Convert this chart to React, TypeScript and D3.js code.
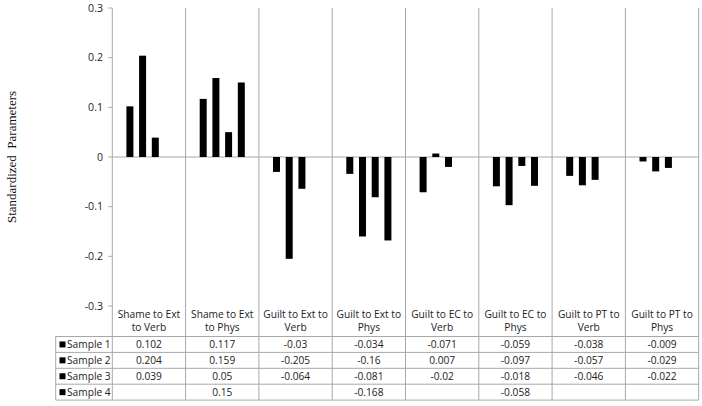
import React from "react";
import * as d3 from "d3";

const categories: string[][] = [
  ["Shame to Ext", "to Verb"],
  ["Shame to Ext", "to Phys"],
  ["Guilt to Ext to", "Verb"],
  ["Guilt to Ext to", "Phys"],
  ["Guilt to EC to", "Verb"],
  ["Guilt to EC to", "Phys"],
  ["Guilt to PT to", "Verb"],
  ["Guilt to PT to", "Phys"],
];
const seriesNames = ["Sample 1", "Sample 2", "Sample 3", "Sample 4"];
const sample1: (number | null)[] = [0.102, 0.117, -0.03, -0.034, -0.071, -0.059, -0.038, -0.009];
const sample2: (number | null)[] = [0.204, 0.159, -0.205, -0.16, 0.007, -0.097, -0.057, -0.029];
const sample3: (number | null)[] = [0.039, 0.05, -0.064, -0.081, -0.02, -0.018, -0.046, -0.022];
const sample4: (number | null)[] = [null, 0.15, null, -0.168, null, -0.058, null, null];
const seriesValues = [sample1, sample2, sample3, sample4];
const yTicks = [-0.3, -0.2, -0.1, 0, 0.1, 0.2, 0.3];

const W = 702;
const H = 406;
const plotLeft = 112.3;
const plotRight = 698.7;
const plotTop = 8;
const plotBottom = 306;
const tableLeft = 55.7;
const rowTop = 336.5;
const rowH = 15.9;
const gridColor = "#a8a8a8";
const font = "'Open Sans', 'Liberation Sans', sans-serif";
const fs = 10.2;

export default function App() {
  const keys = categories.map((_, i) => String(i));
  const x = d3.scaleBand<string>().domain(keys).range([plotLeft, plotRight]).padding(0);
  const xs = d3
    .scaleBand<string>()
    .domain(seriesNames)
    .range([0, x.bandwidth()])
    .paddingInner(0.45)
    .paddingOuter(1.11);
  const y = d3.scaleLinear().domain([-0.3, 0.3]).range([plotBottom, plotTop]);
  const fmt = (v: number) => (v === 0 ? "0" : String(v));
  const tableBottom = rowTop + rowH * seriesNames.length;
  const boundaries = [...keys.map((k) => x(k)!), plotRight];

  return (
    <svg
      width={W}
      height={H}
      style={{ position: "absolute", left: 0, top: 0, background: "#fff" }}
      fontFamily={font}
    >
      {boundaries.map((bx, i) => (
        <line key={"v" + i} x1={bx} x2={bx} y1={plotTop} y2={tableBottom} stroke={gridColor} strokeWidth={1} />
      ))}
      <line x1={plotLeft} x2={plotRight} y1={y(0)} y2={y(0)} stroke={gridColor} strokeWidth={1} />
      {yTicks.map((t) => (
        <g key={"t" + t}>
          <line x1={plotLeft - 4} x2={plotLeft} y1={y(t)} y2={y(t)} stroke={gridColor} />
          <text x={103} y={y(t)} dy="0.35em" textAnchor="end" fontSize={10.6} fill="#222">
            {fmt(t)}
          </text>
        </g>
      ))}
      <text
        transform={`translate(16,${(plotTop + plotBottom) / 2}) rotate(-90)`}
        textAnchor="middle"
        fontFamily="'Liberation Serif', 'Times New Roman', serif"
        fontSize={13}
        fill="#111"
        style={{ whiteSpace: "pre" }}
      >
        {"Standardized  Parameters"}
      </text>
      {seriesValues.map((vals, si) =>
        vals.map((v, ci) =>
          v === null ? null : (
            <rect
              key={`b${si}-${ci}`}
              x={x(keys[ci])! + xs(seriesNames[si])!}
              width={xs.bandwidth()}
              y={Math.min(y(v), y(0))}
              height={Math.abs(y(v) - y(0))}
              fill="#000"
            />
          )
        )
      )}
      {categories.map((lines, ci) => {
        const cx = x(keys[ci])! + x.bandwidth() / 2;
        return (
          <g key={"c" + ci}>
            <text x={cx} y={317.5} textAnchor="middle" fontSize={fs} fill="#222">
              {lines[0]}
            </text>
            <text x={cx} y={330.7} textAnchor="middle" fontSize={fs} fill="#222">
              {lines[1]}
            </text>
          </g>
        );
      })}
      {d3.range(seriesNames.length + 1).map((r) => (
        <line
          key={"h" + r}
          x1={tableLeft}
          x2={plotRight}
          y1={rowTop + r * rowH}
          y2={rowTop + r * rowH}
          stroke={gridColor}
        />
      ))}
      <line x1={tableLeft} x2={tableLeft} y1={rowTop} y2={tableBottom} stroke={gridColor} />
      {seriesNames.map((name, si) => {
        const cy = rowTop + si * rowH + rowH / 2;
        return (
          <g key={"r" + si}>
            <rect x={59.5} y={cy - 3} width={6} height={6} fill="#000" />
            <text x={67} y={cy} dy="0.35em" fontSize={fs} fill="#222">
              {name}
            </text>
            {seriesValues[si].map((v, ci) =>
              v === null ? null : (
                <text
                  key={`t${si}-${ci}`}
                  x={x(keys[ci])! + x.bandwidth() / 2}
                  y={cy}
                  dy="0.35em"
                  textAnchor="middle"
                  fontSize={fs}
                  fill="#222"
                >
                  {String(v)}
                </text>
              )
            )}
          </g>
        );
      })}
    </svg>
  );
}
